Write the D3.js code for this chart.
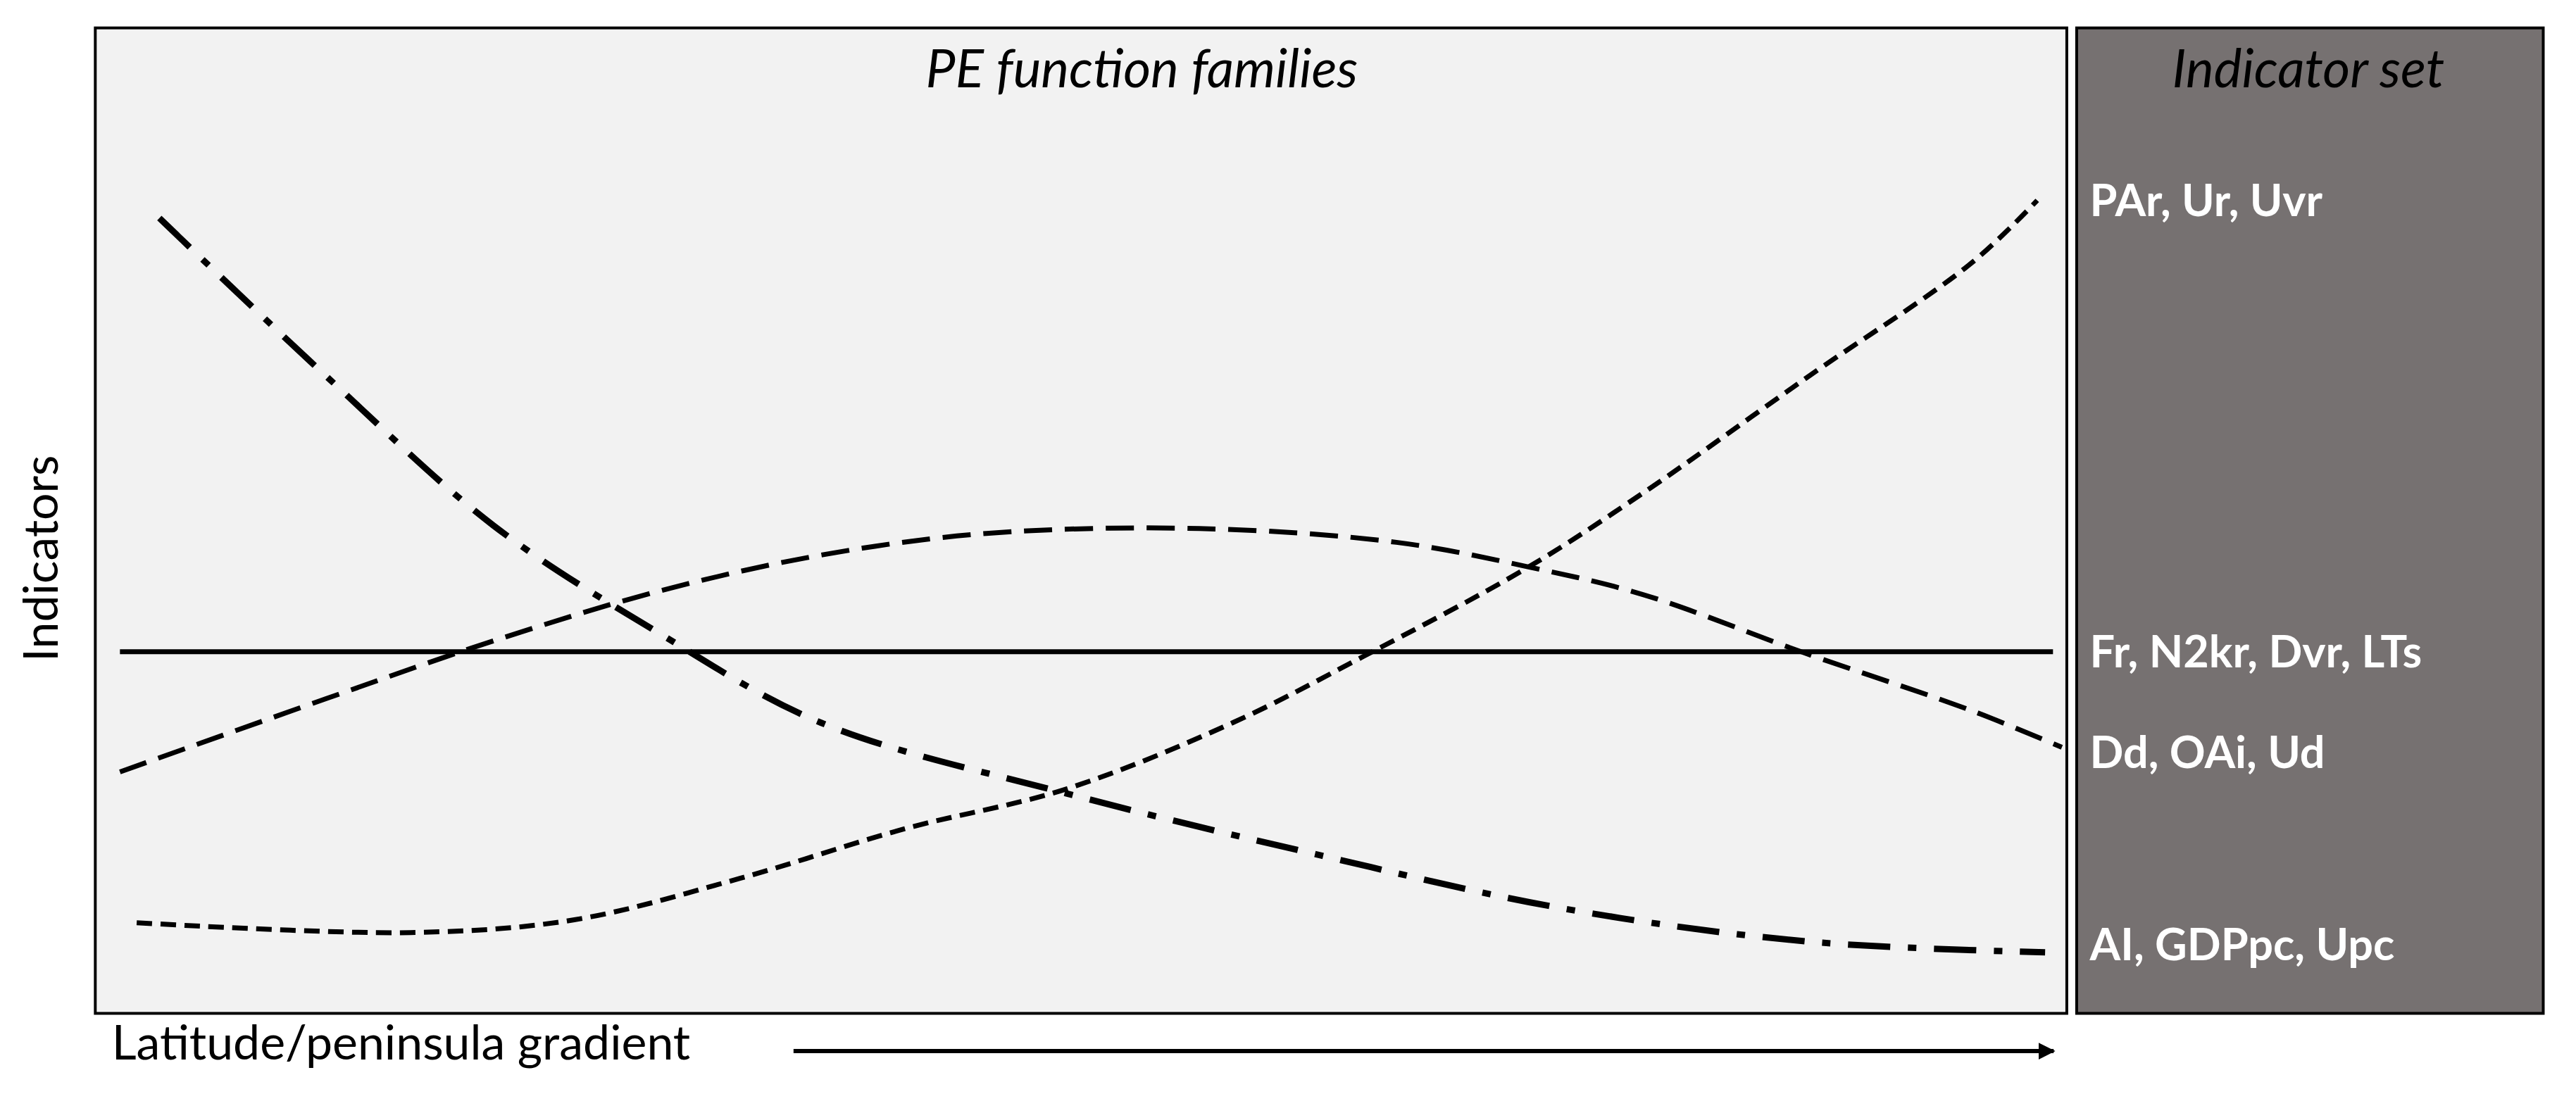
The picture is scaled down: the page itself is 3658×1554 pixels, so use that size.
<!DOCTYPE html>
<html><head><meta charset="utf-8">
<script src="https://d3js.org/d3.v7.min.js"></script>
<style>body{margin:0;background:#fff}svg{display:block}</style>
</head><body>
<script>
// Data (x: gradient 0-100, y: indicator value 0-100)
const decX = [3.25,11.8,20.2,28.5,36.8,49.3,61.8,74.3,86.8,98.9];
const decY = [80.7,64.5,49.5,38.7,29.5,22.3,16.2,10.7,7.3,6.2];
const humpX = [1.25,11.8,20.2,28.5,36.8,45.2,56,66,72.7,78.5,86.8,95.2,99.75];
const humpY = [24.5,32,37.8,42.8,46.5,48.7,49.2,47.8,45.3,42.5,36.5,30.7,27];
const riseX = [2.1,16,24.3,32.7,41,49.3,57.7,64.3,72.7,78.5,86.8,95.2,98.5];
const riseY = [9.2,8.2,9.5,13.7,18.7,22.8,29.5,36.2,45.3,52.8,64.5,76.2,82.5];
const flatX = [1.25,99.3];
const flatY = [36.7,36.7];
const labels = ["PAr, Ur, Uvr","Fr, N2kr, Dvr, LTs","Dd, OAi, Ud","AI, GDPpc, Upc"];
const labelY = [82.5,36.7,26.5,7];

const W=3658,H=1554,s=2.333;
const L=58*s,R=1258*s,T=17*s,B=617*s;
const svg=d3.select("body").append("svg").attr("width",W).attr("height",H);
const x=d3.scaleLinear().domain([0,100]).range([L,R]);
const y=d3.scaleLinear().domain([0,100]).range([B,T]);
const font="Lato, 'Open Sans', sans-serif";

svg.append("rect").attr("x",L).attr("y",T).attr("width",R-L).attr("height",B-T).attr("fill","#f2f2f2").attr("stroke","#000").attr("stroke-width",4);
svg.append("rect").attr("x",1264*s).attr("y",T).attr("width",(1548-1264)*s).attr("height",B-T).attr("fill","#767171").attr("stroke","#000").attr("stroke-width",4);

const line=d3.line().x(d=>x(d[0])).y(d=>y(d[1])).curve(d3.curveCatmullRom);
const series=[
 [flatX,flatY,"none",7],
 [humpX,humpY,"40,18",7],
 [riseX,riseY,"22,12",7],
 [decX,decY,"60,25,12,25",9]];
series.forEach(([xs,ys,da,w])=>{
  svg.append("path").attr("d",line(xs.map((v,i)=>[v,ys[i]]))).attr("fill","none")
   .attr("stroke","#000").attr("stroke-width",w).attr("stroke-dasharray",da==="none"?null:da);
});

svg.append("text").attr("x",695*s).attr("y",53*s).attr("text-anchor","middle").attr("font-family",font)
 .attr("font-style","italic").attr("font-size",75).text("PE function families");
svg.append("text").attr("x",1405*s).attr("y",53*s).attr("text-anchor","middle").attr("font-family",font)
 .attr("font-style","italic").attr("font-size",75).text("Indicator set");
labels.forEach((t,i)=>{
  svg.append("text").attr("x",1272*s).attr("y",y(labelY[i])).attr("dy","0.35em").attr("font-family",font)
   .attr("font-weight","bold").attr("fill","#fff").attr("font-size",63).text(t);
});
svg.append("text").attr("transform",`translate(${35*s},${340*s}) rotate(-90)`).attr("text-anchor","middle")
 .attr("font-family",font).attr("font-size",68).text("Indicators");
svg.append("text").attr("x",68*s).attr("y",645*s).attr("font-family",font).attr("font-size",68).text("Latitude/peninsula gradient");
svg.append("defs").append("marker").attr("id","ah").attr("viewBox","0 0 10 10").attr("refX",9).attr("refY",5)
 .attr("markerWidth",4).attr("markerHeight",4).attr("orient","auto").append("path").attr("d","M0,0L10,5L0,10z");
svg.append("line").attr("x1",483*s).attr("x2",1250*s).attr("y1",640*s).attr("y2",640*s).attr("stroke","#000")
 .attr("stroke-width",6).attr("marker-end","url(#ah)");
</script>
</body></html>
